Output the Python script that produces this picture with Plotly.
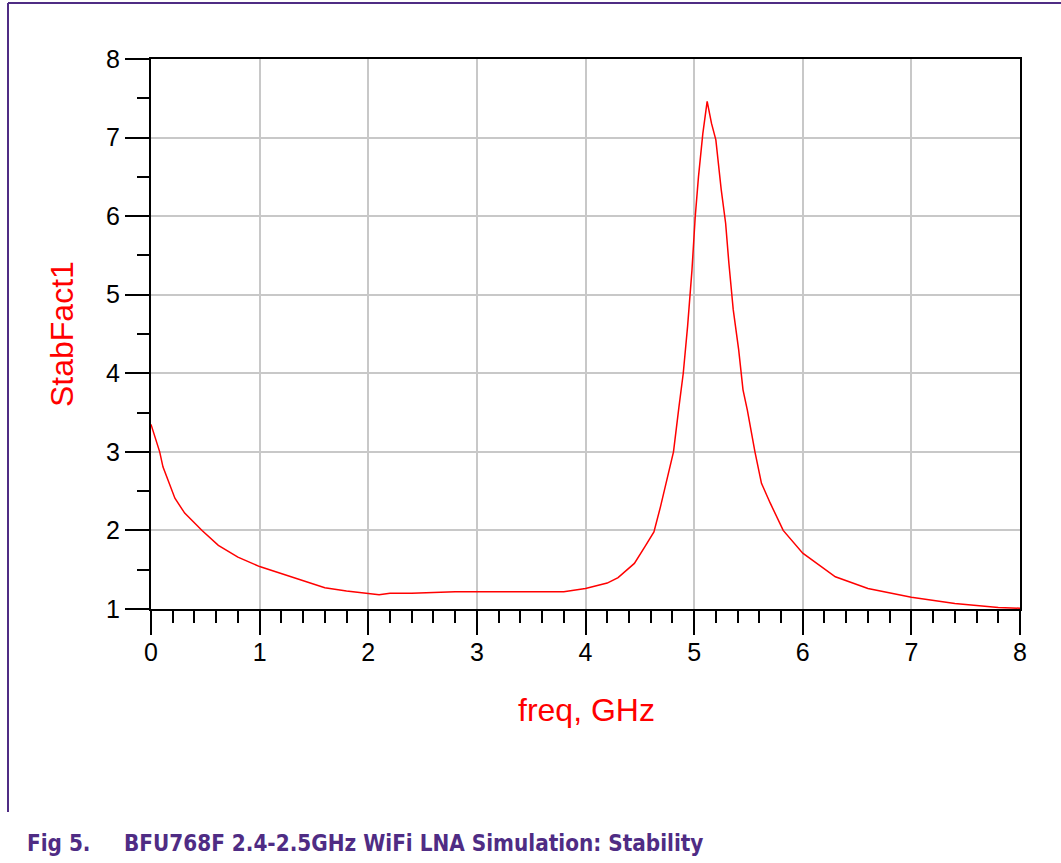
import plotly.graph_objects as go

# ---- data ----
freq_ghz = [0, 0.08, 0.11, 0.22, 0.31, 0.47, 0.62, 0.8, 1.0, 1.2, 1.4, 1.6, 1.8, 2.0,
            2.1, 2.2, 2.4, 2.8, 3.2, 3.6, 3.8, 4.0, 4.2, 4.3, 4.45, 4.55, 4.63, 4.69,
            4.75, 4.81, 4.86, 4.90, 4.94, 4.98, 5.01, 5.04, 5.08, 5.12, 5.16, 5.2,
            5.25, 5.29, 5.32, 5.36, 5.41, 5.45, 5.49, 5.56, 5.62, 5.70, 5.82, 6.0,
            6.3, 6.6, 7.0, 7.4, 7.8, 8.0]
stab_fact1 = [3.35, 3.0, 2.81, 2.41, 2.22, 2.0, 1.81, 1.66, 1.54, 1.45, 1.37, 1.27, 1.23,
              1.20, 1.18, 1.20, 1.20, 1.22, 1.22, 1.22, 1.22, 1.26, 1.33, 1.40, 1.58,
              1.80, 1.98, 2.30, 2.64, 3.0, 3.57, 4.0, 4.6, 5.31, 5.99, 6.5, 7.05, 7.46,
              7.18, 6.97, 6.33, 5.91, 5.40, 4.81, 4.30, 3.79, 3.53, 3.0, 2.60, 2.35,
              2.0, 1.71, 1.41, 1.26, 1.15, 1.07, 1.02, 1.01]
x_ticks = [0, 1, 2, 3, 4, 5, 6, 7, 8]
y_ticks = [1, 2, 3, 4, 5, 6, 7, 8]

x_title = "freq, GHz"
y_title = "StabFact1"
fig_label = "Fig 5."
fig_caption = "BFU768F 2.4-2.5GHz WiFi LNA Simulation: Stability"

# ---- layout geometry (pixels) ----
W, H = 1061, 863
L, R, T, B = 151, 1020, 59, 609
pw, ph = R - L, B - T


def px(x):
    return (x - L) / pw


def py(y):
    return (B - y) / ph


PURPLE = "#4F2C84"
FONT = "Liberation Sans, Arial, sans-serif"
CAPFONT = "Liberation Sans Narrow, Arial Narrow, DejaVu Sans Condensed, sans-serif"

fig = go.Figure()
fig.add_trace(go.Scatter(x=freq_ghz, y=stab_fact1, mode="lines",
                         line=dict(color="#FF0000", width=1.5),
                         hoverinfo="skip", showlegend=False))

axis_common = dict(
    showline=True, linecolor="black", linewidth=2, mirror=True,
    showgrid=True, gridcolor="#C8C8C8", gridwidth=1.5,
    zeroline=False, ticks="outside", tickcolor="black", tickwidth=2, ticklen=24,
    tickfont=dict(family=FONT, size=25, color="black"),
)

fig.update_xaxes(range=[0, 8], tickvals=x_ticks, ticktext=[str(v) for v in x_ticks],
                 minor=dict(dtick=0.2, tick0=0, ticks="outside", ticklen=12,
                            tickcolor="black", tickwidth=2, showgrid=False),
                 ticklabelstandoff=-4,
                 **axis_common)
fig.update_yaxes(range=[1, 8], tickvals=y_ticks, ticktext=[str(v) for v in y_ticks],
                 minor=dict(dtick=0.5, tick0=0, ticks="outside", ticklen=12,
                            tickcolor="black", tickwidth=2, showgrid=False),
                 **axis_common)

annotations = [
    dict(text=x_title, x=px(586), y=py(710), xref="paper", yref="paper",
         showarrow=False, xanchor="center", yanchor="middle",
         font=dict(family=FONT, size=32, color="#FF0000")),
    dict(text=y_title, x=px(62), y=py(334), xref="paper", yref="paper",
         showarrow=False, xanchor="center", yanchor="middle", textangle=-90,
         font=dict(family=FONT, size=32, color="#FF0000")),
    dict(text="<b>" + fig_label + "</b>", x=px(25), y=py(843), xref="paper", yref="paper",
         showarrow=False, xanchor="left", yanchor="middle",
         font=dict(family=CAPFONT, size=22.3, color=PURPLE)),
    dict(text="<b>" + fig_caption + "</b>", x=px(122), y=py(843), xref="paper", yref="paper",
         showarrow=False, xanchor="left", yanchor="middle",
         font=dict(family=CAPFONT, size=22.3, color=PURPLE)),
]

shapes = [
    dict(type="line", xref="paper", yref="paper", x0=px(8), x1=px(8), y0=py(812), y1=py(3),
         line=dict(color=PURPLE, width=2)),
    dict(type="line", xref="paper", yref="paper", x0=px(8), x1=px(1061), y0=py(3), y1=py(3),
         line=dict(color=PURPLE, width=2)),
]

fig.update_layout(
    width=W, height=H,
    margin=dict(l=L, r=W - R, t=T, b=H - B, pad=0),
    paper_bgcolor="white", plot_bgcolor="white",
    annotations=annotations, shapes=shapes,
    showlegend=False, hovermode=False,
)

fig.write_html("out.html", config={"displayModeBar": False},
               post_script="document.body.style.margin='0';document.body.style.overflow='hidden';")
